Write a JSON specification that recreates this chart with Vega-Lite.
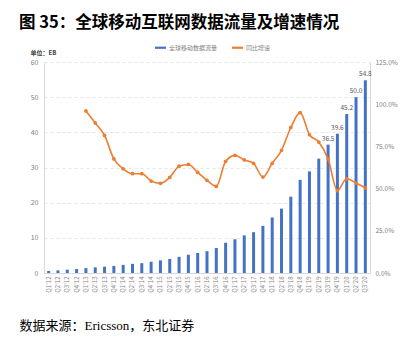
{
  "$schema": "https://vega.github.io/schema/vega-lite/v6.json",
  "autosize": "none",
  "width": 326,
  "height": 211,
  "padding": {"left": 44, "top": 62, "right": 41, "bottom": 68},
  "background": "white",
  "title": {
    "text": "图 35：全球移动互联网数据流量及增速情况",
    "anchor": "start",
    "dx": 0,
    "offset": 11,
    "fontSize": 16.5,
    "font": "Noto Sans CJK SC",
    "fontWeight": "bold",
    "color": "#000000"
  },
  "config": {
    "view": {"stroke": null},
    "axis": {"labelFont": "Noto Sans CJK SC", "labelColor": "#7f7f7f", "domainColor": "#d9d9d9", "tickColor": "#d9d9d9"}
  },
  "data": {
    "values": [
      {"q": "Q1'12", "traffic": 0.57, "growth": null},
      {"q": "Q2'12", "traffic": 0.75, "growth": null},
      {"q": "Q3'12", "traffic": 0.94, "growth": null},
      {"q": "Q4'12", "traffic": 1.13, "growth": null},
      {"q": "Q1'13", "traffic": 1.4, "growth": 96.0},
      {"q": "Q2'13", "traffic": 1.6, "growth": 88.9},
      {"q": "Q3'13", "traffic": 1.8, "growth": 81.5},
      {"q": "Q4'13", "traffic": 2.0, "growth": 67.6},
      {"q": "Q1'14", "traffic": 2.3, "growth": 61.7},
      {"q": "Q2'14", "traffic": 2.6, "growth": 58.8},
      {"q": "Q3'14", "traffic": 2.8, "growth": 58.8},
      {"q": "Q4'14", "traffic": 3.2, "growth": 54.5},
      {"q": "Q1'15", "traffic": 3.6, "growth": 53.1},
      {"q": "Q2'15", "traffic": 4.0, "growth": 56.6},
      {"q": "Q3'15", "traffic": 4.6, "growth": 63.3},
      {"q": "Q4'15", "traffic": 5.2, "growth": 64.3},
      {"q": "Q1'16", "traffic": 5.7, "growth": 59.6},
      {"q": "Q2'16", "traffic": 6.2, "growth": 54.9},
      {"q": "Q3'16", "traffic": 7.1, "growth": 51.3},
      {"q": "Q4'16", "traffic": 8.6, "growth": 66.2},
      {"q": "Q1'17", "traffic": 9.6, "growth": 69.7},
      {"q": "Q2'17", "traffic": 10.7, "growth": 67.0},
      {"q": "Q3'17", "traffic": 11.6, "growth": 65.0},
      {"q": "Q4'17", "traffic": 13.4, "growth": 56.8},
      {"q": "Q1'18", "traffic": 15.8, "growth": 65.0},
      {"q": "Q2'18", "traffic": 18.3, "growth": 72.7},
      {"q": "Q3'18", "traffic": 21.7, "growth": 86.2},
      {"q": "Q4'18", "traffic": 26.5, "growth": 95.0},
      {"q": "Q1'19", "traffic": 28.9, "growth": 81.9},
      {"q": "Q2'19", "traffic": 32.5, "growth": 77.6},
      {"q": "Q3'19", "traffic": 36.5, "growth": 67.6},
      {"q": "Q4'19", "traffic": 39.6, "growth": 48.8},
      {"q": "Q1'20", "traffic": 45.2, "growth": 55.8},
      {"q": "Q2'20", "traffic": 50.0, "growth": 53.3},
      {"q": "Q3'20", "traffic": 54.8, "growth": 50.4}
    ]
  },
  "encoding": {
    "x": {
      "field": "q",
      "type": "nominal",
      "sort": null,
      "scale": {"paddingInner": 0.6, "paddingOuter": 0.3},
      "axis": {
        "labelAngle": -90,
        "labelFontSize": 6,
        "labelAlign": "right",
        "labelBaseline": "middle",
        "labelPadding": 3,
        "ticks": false,
        "title": "数据来源：Ericsson，东北证券",
        "titleFont": "Liberation Serif, Noto Sans CJK SC",
        "titleFontSize": 13,
        "titleFontWeight": "normal",
        "titleColor": "#000000",
        "titleAnchor": "start",
        "titleAlign": "left",
        "titleBaseline": "middle",
        "titleX": -25,
        "titleY": 52
      }
    }
  },
  "layer": [
    {
      "encoding": {
        "y": {
          "field": "traffic",
          "type": "quantitative",
          "scale": {"domain": [0, 60]},
          "axis": {
            "values": [0, 10, 20, 30, 40, 50, 60],
            "grid": true,
            "gridDash": [3, 3],
            "gridColor": "#e6e6e6",
            "ticks": false,
            "labelFontSize": 7,
            "labelPadding": 6,
            "title": "单位：EB",
            "titleAngle": 0,
            "titleFontSize": 6,
            "titleFont": "Noto Sans CJK SC",
            "titleFontWeight": "bold",
            "titleColor": "#404040",
            "titleAlign": "left",
            "titleBaseline": "middle",
            "titleX": -14,
            "titleY": -10
          }
        }
      },
      "layer": [
        {
          "mark": {"type": "bar", "size": 3},
          "encoding": {
            "color": {
              "datum": "全球移动数据流量",
              "type": "nominal",
              "scale": {"domain": ["全球移动数据流量", "同比增速"], "range": ["#4472C4", "#ED7D31"]},
              "legend": {
                "orient": "none",
                "legendX": 111,
                "legendY": -20,
                "direction": "horizontal",
                "title": null,
                "symbolType": "M-1,-0.2H1V0.2H-1Z",
                "symbolSize": 120,
                "symbolStrokeWidth": 0,
                "labelFontSize": 6,
                "labelFont": "Noto Sans CJK SC",
                "labelColor": "#7f7f7f",
                "columnPadding": 14,
                "labelOffset": 3
              }
            }
          }
        },
        {
          "transform": [{"filter": "datum.traffic >= 36"}],
          "mark": {"type": "text", "dy": -6, "fontSize": 6.5, "color": "#595959", "font": "Noto Sans CJK SC"},
          "encoding": {
            "text": {"field": "traffic", "type": "quantitative", "format": ".1f"}
          }
        }
      ]
    },
    {
      "transform": [{"filter": "datum.growth != null"}],
      "mark": {"type": "line", "interpolate": "monotone", "strokeWidth": 1.6, "point": {"filled": true, "size": 14, "color": "#ED7D31"}},
      "encoding": {
        "y": {
          "field": "growth",
          "type": "quantitative",
          "scale": {"domain": [0, 125]},
          "axis": {
            "orient": "right",
            "values": [0, 25, 50, 75, 100, 125],
            "labelExpr": "format(datum.value, '.1f') + '%'",
            "grid": false,
            "ticks": false,
            "labelFontSize": 6.5,
            "labelPadding": 5,
            "title": null
          }
        },
        "color": {"datum": "同比增速", "type": "nominal"}
      }
    }
  ],
  "resolve": {"scale": {"y": "independent"}}
}
